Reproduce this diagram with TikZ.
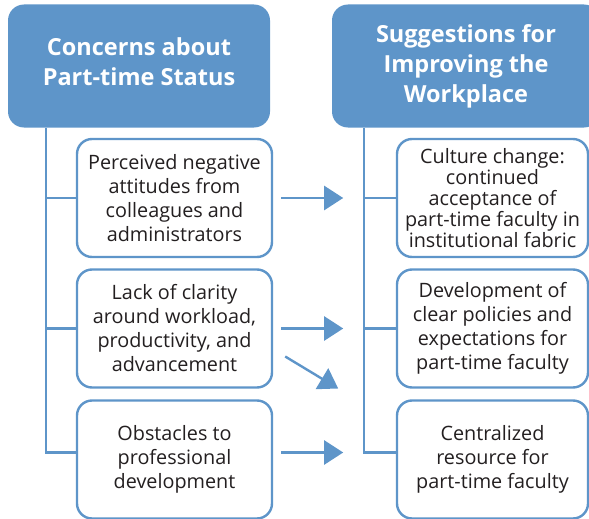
\documentclass[tikz,border=0pt]{standalone}
\usepackage{fontspec}
\setmainfont{Open Sans}
\usepackage{tikz}
\usetikzlibrary{arrows.meta,positioning,calc}
\definecolor{Blu}{HTML}{5E95C9}
\definecolor{Ink}{HTML}{231F20}

\begin{document}
\begin{tikzpicture}[x=1pt,y=-1pt,
  head/.style={fill=Blu,draw=none,rounded corners=16pt,text=white,font=\bfseries\fontsize{23.5}{30}\selectfont,align=center},
  card/.style={draw=Blu,line width=2.4pt,fill=white,rounded corners=15pt,minimum width=195pt,minimum height=118pt,text=Ink,font=\fontsize{19.8}{24}\selectfont,align=center,inner sep=0pt},
  wire/.style={Blu,line width=2.4pt},
  flow/.style={Blu,line width=2.4pt,-{Triangle[length=19pt,width=24pt]}}]
\useasboundingbox (0,0) rectangle (589,519);
% headers
\node[head,minimum width=262pt,minimum height=123pt,text depth=8pt] (hL) at (139,66) {Concerns about\\Part-time Status};
\node[head,minimum width=268pt,minimum height=123pt] (hR) at (466,66) {Suggestions for\\Improving the\\Workplace};
% concerns
\node[card] (c1) at (174.5,198) {Perceived negative\\attitudes from\\colleagues and\\administrators};
\node[card] (c2) at (174.5,328.5) {Lack of clarity\\around workload,\\productivity, and\\advancement};
\node[card] (c3) at (174.5,459.5) {Obstacles to\\professional\\development};
% suggestions
\node[card,minimum width=191pt,font=\fontsize{19.8}{21}\selectfont] (s1) at (492.5,198) {Culture change:\\continued\\acceptance of\\part-time faculty in\\institutional fabric};
\node[card,minimum width=191pt] (s2) at (492.5,328.5) {Development of\\clear policies and\\expectations for\\part-time faculty};
\node[card,minimum width=191pt] (s3) at (492.5,459.5) {Centralized\\resource for\\part-time faculty};
% trunks
\coordinate (tL) at (46,128);
\coordinate (tR) at (364,128);
\draw[wire] (tL) |- ([yshift=7pt]c3.west);
\draw[wire] (tL |- c1.west) -- (c1.west);
\draw[wire] (tL |- c2.west) -- (c2.west);
\draw[wire] (tR) |- ([yshift=7pt]s3.west);
\draw[wire] (tR |- s1.west) -- (s1.west);
\draw[wire] (tR |- s2.west) -- (s2.west);
% arrows
\draw[flow] ([xshift=8pt]c1.east) -- ([xshift=70pt]c1.east);
\draw[flow] ([xshift=8pt]c2.east) -- ([xshift=70pt]c2.east);
\draw[flow] ([xshift=12pt,yshift=-28pt]c2.east) -- ([xshift=65pt,yshift=-60pt]c2.east);
\draw[flow] ([xshift=8pt,yshift=7pt]c3.east) -- ([xshift=70pt,yshift=7pt]c3.east);
\end{tikzpicture}
\end{document}
